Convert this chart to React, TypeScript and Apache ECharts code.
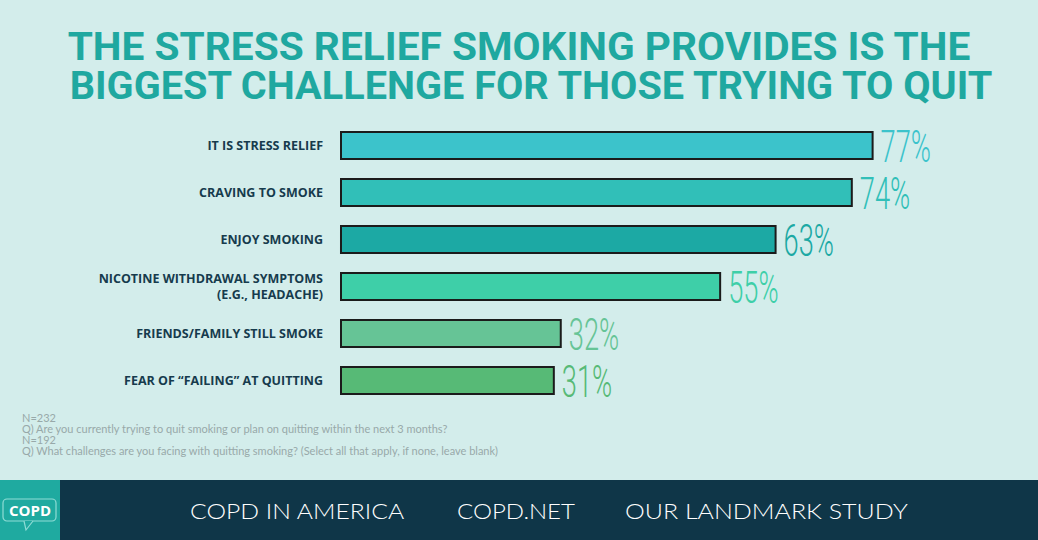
import React, { useEffect, useRef } from "react";
import * as echarts from "echarts";

const categories = [
  "IT IS STRESS RELIEF",
  "CRAVING TO SMOKE",
  "ENJOY SMOKING",
  "NICOTINE WITHDRAWAL SYMPTOMS\n(E.G., HEADACHE)",
  "FRIENDS/FAMILY STILL SMOKE",
  "FEAR OF \u201CFAILING\u201D AT QUITTING",
];
const values = [77, 74, 63, 55, 32, 31];
const barColors = ["#3CC3CB", "#31BFB8", "#1CA9A4", "#3ECFA8", "#66C496", "#57BA76"];
const titleLines = [
  "THE STRESS RELIEF SMOKING PROVIDES IS THE",
  "BIGGEST CHALLENGE FOR THOSE TRYING TO QUIT",
];
const footnotes = [
  "N=232",
  "Q) Are you currently trying to quit smoking or plan on quitting within the next 3 months?",
  "N=192",
  "Q) What challenges are you facing with quitting smoking? (Select all that apply, if none, leave blank)",
];
const footerLinks = ["COPD IN AMERICA", "COPD.NET", "OUR LANDMARK STUDY"];

function measure(text: string, font: string): number {
  const c = document.createElement("canvas").getContext("2d")!;
  c.font = font;
  return c.measureText(text).width;
}

export default function App() {
  const ref = useRef<HTMLDivElement>(null);
  useEffect(() => {
    document.body.style.margin = "0";
    const chart = echarts.init(ref.current!, undefined, { renderer: "svg" });
    chart.setOption({
      animation: false,
      backgroundColor: "#D3EDEB",
      grid: { left: 340, right: 5, top: 122, height: 282, containLabel: false },
      xAxis: { type: "value", min: 0, max: 100, show: false },
      yAxis: {
        type: "category",
        inverse: true,
        data: categories,
        axisLine: { show: false },
        axisTick: { show: false },
        axisLabel: {
          margin: 17,
          color: "#163B4D",
          fontFamily: "Open Sans",
          fontWeight: "bold",
          fontSize: 12.5,
          lineHeight: 16,
          align: "right",
        },
      },
      series: [
        {
          type: "bar",
          data: values.map((v, i) => ({ value: v, itemStyle: { color: barColors[i] } })),
          barWidth: 29,
          itemStyle: { borderColor: "#1b1b1b", borderWidth: 2 },
          label: { show: false },
        },
      ],
    });

    const labelFont = "300 44px Roboto";
    const valueLabels = values.map((v, i) => {
      const p = chart.convertToPixel({ seriesIndex: 0 }, [v, i]) as number[];
      return {
        type: "text",
        x: p[0] + 7,
        y: p[1] + 1,
        scaleX: 0.62,
        style: {
          text: v + "%",
          fill: barColors[i],
          font: labelFont,
          verticalAlign: "middle",
        },
      };
    });

    const titleFont = "bold 39px Roboto";
    const titleWidths = [904, 927];
    const titles = titleLines.map((t, i) => ({
      type: "text",
      x: i === 0 ? 519 : 531,
      y: 47 + i * 39,
      scaleX: titleWidths[i] / measure(t, titleFont),
      style: {
        text: t,
        fill: "#1FA8A0",
        font: titleFont,
        align: "center",
        verticalAlign: "middle",
      },
    }));

    const footFont = "300 21px Lato";
    const footX = [190, 457, 625];
    const footW = [215, 118, 283];
    const links = footerLinks.map((t, i) => ({
      type: "text",
      x: footX[i],
      y: 511,
      scaleX: footW[i] / measure(t, footFont),
      style: { text: t, fill: "#ffffff", font: footFont, verticalAlign: "middle" },
    }));

    chart.setOption({
      graphic: [
        ...titles,
        ...valueLabels,
        ...footnotes.map((t, i) => ({
          type: "text",
          left: 22,
          top: 412 + i * 11,
          style: { text: t, fill: "#98A9A9", font: "11px Lato" },
        })),
        {
          type: "rect",
          shape: { x: 0, y: 480, width: 1038, height: 60 },
          style: { fill: "#0F3648" },
        },
        {
          type: "rect",
          shape: { x: 0, y: 480, width: 60, height: 60 },
          style: { fill: "#1FAAA0" },
        },
        {
          type: "rect",
          shape: { x: 3, y: 499, width: 53, height: 22, r: 4 },
          style: { fill: "none", stroke: "#8FDCD5", lineWidth: 1.2 },
        },
        {
          type: "polyline",
          shape: { points: [[24, 521], [26, 530], [33, 521]] },
          style: { fill: "#1FAAA0", stroke: "#8FDCD5", lineWidth: 1.2 },
        },
        {
          type: "text",
          x: 30,
          y: 510,
          style: {
            text: "COPD",
            fill: "#ffffff",
            font: "bold 15px 'Open Sans'",
            align: "center",
            verticalAlign: "middle",
          },
        },
        ...links,
      ],
    });
    return () => chart.dispose();
  }, []);
  return (
    <div
      ref={ref}
      style={{ position: "absolute", left: 0, top: 0, width: 1038, height: 540 }}
    />
  );
}
